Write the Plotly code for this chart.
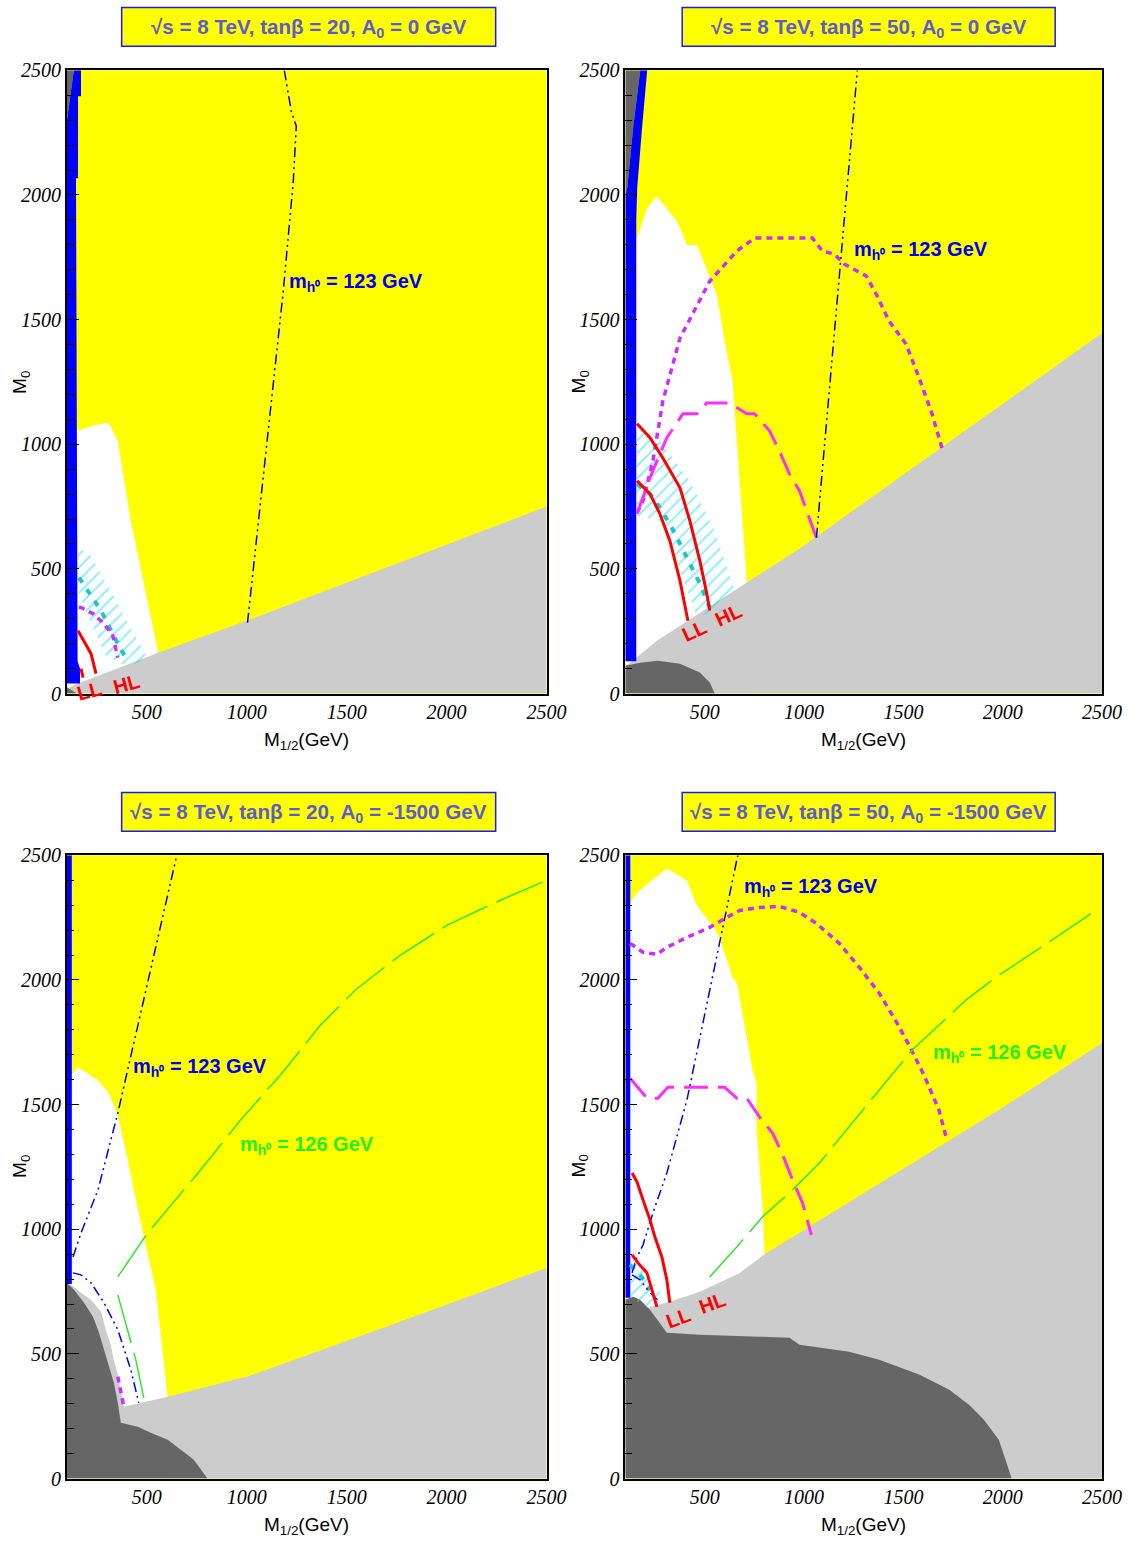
import plotly.graph_objects as go
from plotly.subplots import make_subplots

# ---------------- data: (M_1/2 [GeV], M_0 [GeV]) ----------------
X_TICKS = [500, 1000, 1500, 2000, 2500]
Y_TICKS = [0, 500, 1000, 1500, 2000, 2500]
TITLES = ["√s = 8 TeV, tanβ = 20, A<sub>0</sub> = 0 GeV",
          "√s = 8 TeV, tanβ = 50, A<sub>0</sub> = 0 GeV",
          "√s = 8 TeV, tanβ = 20, A<sub>0</sub> = -1500 GeV",
          "√s = 8 TeV, tanβ = 50, A<sub>0</sub> = -1500 GeV"]

# Panel 1: tanb=20, A0=0
P1_WHITE_X = [100, 150, 246, 310, 355, 420, 555, 560, 100]
P1_WHITE_Y = [1054, 1054, 1078, 1086, 1014, 693, 172, 0, 0]
P1_LGRAY_X = [100, 100, 156, 560, 1000, 2500, 2500]
P1_LGRAY_Y = [0, 20, 40, 165, 292, 750, 0]
P1_DGRAY_TOP_X = [100, 135, 100]
P1_DGRAY_TOP_Y = [2296, 2500, 2500]
P1_DGRAY_BOT_X = [100, 150, 100]
P1_DGRAY_BOT_Y = [0, 0, 25]
P1_BLUE_X = [100, 166, 166, 154, 146, 156, 156, 171, 171, 135, 100]
P1_BLUE_Y = [40, 40, 100, 130, 2067, 2067, 2396, 2396, 2500, 2500, 2296]
P1_HATCH_X = [156, 211, 345, 470, 510, 395, 295, 181, 156]
P1_HATCH_Y = [581, 565, 372, 192, 132, 112, 152, 353, 413]
P1_CYAN_X = [161, 271, 360, 395]
P1_CYAN_Y = [465, 333, 192, 144]
P1_MDOT_X = [160, 171, 231, 286, 330, 355]
P1_MDOT_Y = [345, 345, 320, 280, 232, 144]
P1_RED_HL_X = [156, 186, 221, 246]
P1_RED_HL_Y = [252, 212, 160, 80]
P1_RED_LL_X = [171, 181]
P1_RED_LL_Y = [100, 64]
P1_MH123_X = [1004, 1183, 1233, 1248, 1223, 1188]
P1_MH123_Y = [284, 1615, 2055, 2276, 2336, 2500]

# Panel 2: tanb=50, A0=0
P2_WHITE_X = [100, 159, 209, 259, 360, 410, 460, 560, 600, 640, 711, 711, 100]
P2_WHITE_Y = [1827, 1827, 1947, 1995, 1895, 1799, 1799, 1603, 1414, 1254, 453, 0, 0]
P2_LGRAY_X = [100, 100, 124, 259, 711, 977, 2500, 2500]
P2_LGRAY_Y = [0, 110, 124, 212, 445, 581, 1446, 0]
P2_DGRAY_BOT_X = [100, 100, 174, 264, 375, 475, 525, 550]
P2_DGRAY_BOT_Y = [0, 112, 124, 132, 120, 84, 44, 0]
P2_DGRAY_TOP_X = [100, 110, 139, 175, 100]
P2_DGRAY_TOP_Y = [2000, 2030, 2268, 2500, 2500]
P2_BLUE_X = [100, 155, 155, 160, 184, 210, 175, 139, 110, 100]
P2_BLUE_Y = [130, 130, 1900, 2030, 2268, 2500, 2500, 2268, 2030, 2000]
P2_HATCH_X = [159, 274, 425, 550, 651, 575, 460, 375, 274, 159]
P2_HATCH_Y = [1054, 1014, 853, 653, 413, 324, 312, 493, 693, 713]
P2_MDOT_X = [159, 189, 239, 289, 375, 525, 661, 751, 1042, 1092, 1152, 1202,
             1313, 1363, 1428, 1513, 1579, 1644, 1694]
P2_MDOT_Y = [725, 773, 933, 1174, 1426, 1654, 1775, 1827, 1827, 1775, 1763, 1723,
             1675, 1602, 1494, 1402, 1266, 1122, 985]
P2_MLONG_X = [159, 224, 274, 309, 390, 460, 510, 625, 711, 751, 826, 876, 926, 977, 1062]
P2_MLONG_Y = [721, 865, 961, 1026, 1122, 1122, 1166, 1166, 1122, 1122, 1054, 973, 881, 813, 625]
P2_RED_HL_X = [159, 224, 289, 375, 425, 475, 510, 525]
P2_RED_HL_Y = [1082, 1026, 945, 825, 693, 533, 401, 333]
P2_RED_LL_X = [159, 224, 274, 324, 375, 415]
P2_RED_LL_Y = [853, 801, 721, 613, 453, 292]
P2_CYAN_X = [159, 224, 274, 334, 375, 425, 475, 525]
P2_CYAN_Y = [841, 801, 745, 665, 601, 521, 441, 345]
P2_MH123_X = [1062, 1268]
P2_MH123_Y = [625, 2500]

# Panel 3: tanb=20, A0=-1500
P3_WHITE_X = [100, 131, 156, 256, 310, 355, 405, 470, 545, 605, 605, 100]
P3_WHITE_Y = [1626, 1626, 1650, 1598, 1546, 1458, 1278, 1026, 757, 324, 0, 0]
P3_LGRAY_X = [100, 121, 171, 221, 271, 295, 320, 335, 355, 370, 385, 605, 1019, 1767, 2500, 2500, 100]
P3_LGRAY_Y = [777, 777, 745, 717, 669, 597, 537, 477, 417, 357, 288, 328, 413, 629, 845, 0, 0]
P3_DGRAY_X = [100, 136, 186, 231, 261, 286, 310, 335, 355, 370, 455, 520, 605, 670, 734, 804, 100]
P3_DGRAY_Y = [785, 757, 705, 649, 585, 517, 449, 385, 304, 224, 208, 184, 156, 116, 76, 0, 0]
P3_BLUE_X = [100, 125, 125, 100]
P3_BLUE_Y = [780, 780, 2500, 2500]
P3_GREEN_UP_X = [355, 505, 769, 969, 1168, 1368, 1542, 1767, 2001, 2266, 2500]
P3_GREEN_UP_Y = [809, 986, 1238, 1438, 1618, 1818, 1959, 2099, 2219, 2319, 2400]
P3_GREEN_LOW_X = [355, 410, 445, 485]
P3_GREEN_LOW_Y = [737, 577, 477, 324]
P3_MH123_UP_X = [131, 171, 256, 355, 650]
P3_MH123_UP_Y = [889, 985, 1158, 1466, 2500]
P3_MH123_LOW_X = [131, 171, 221, 286, 355, 420, 460]
P3_MH123_LOW_Y = [825, 817, 785, 705, 597, 437, 304]
P3_MDOT_X = [355, 385]
P3_MDOT_Y = [409, 288]

# Panel 4: tanb=50, A0=-1500
P4_WHITE_X = [100, 124, 159, 309, 410, 460, 550, 575, 640, 661, 741, 761, 761, 791, 801, 801, 100]
P4_WHITE_Y = [2307, 2307, 2351, 2447, 2399, 2299, 2207, 2167, 2011, 1991, 1638, 1586, 1398, 1090, 905, 0, 0]
P4_LGRAY_X = [100, 139, 209, 324, 475, 676, 811, 1478, 1980, 2500, 2500, 100]
P4_LGRAY_Y = [717, 729, 685, 709, 749, 825, 905, 1230, 1478, 1747, 0, 0]
P4_DGRAY_X = [100, 139, 174, 224, 309, 475, 776, 926, 977, 1227, 1378, 1579, 1729,
              1830, 1905, 1980, 2005, 2045, 100]
P4_DGRAY_Y = [717, 729, 717, 677, 585, 577, 569, 565, 537, 509, 477, 417, 357,
              296, 236, 156, 96, 0, 0]
P4_BLUE_X = [100, 125, 125, 100]
P4_BLUE_Y = [725, 725, 2500, 2500]
P4_HATCH_X = [124, 174, 274, 264, 199, 124]
P4_HATCH_Y = [873, 853, 753, 705, 693, 725]
P4_CYAN_X = [124, 174, 224]
P4_CYAN_Y = [857, 817, 757]
P4_MDOT_X = [124, 189, 259, 309, 410, 525, 610, 676, 776, 876, 977, 1062, 1177,
             1278, 1378, 1468, 1528, 1604, 1679, 1719]
P4_MDOT_Y = [2147, 2111, 2103, 2131, 2171, 2211, 2251, 2279, 2291, 2295, 2271, 2227, 2147,
             2051, 1947, 1827, 1739, 1618, 1478, 1358]
P4_MLONG_X = [124, 209, 264, 314, 600, 661, 711, 741, 776, 841, 886, 942, 992, 1037]
P4_MLONG_Y = [1606, 1526, 1526, 1570, 1570, 1526, 1526, 1490, 1450, 1386, 1310, 1198, 1106, 977]
P4_RED_HL_X = [134, 159, 189, 224, 249, 284, 309, 324]
P4_RED_HL_Y = [1226, 1190, 1118, 1038, 969, 889, 797, 705]
P4_RED_LL_X = [134, 164, 209, 234, 259]
P4_RED_LL_Y = [897, 865, 825, 757, 689]
P4_MH123_UP_X = [134, 159, 189, 239, 309, 410, 666]
P4_MH123_UP_Y = [825, 889, 937, 1066, 1226, 1518, 2500]
P4_MH123_LOW_X = [134, 174, 224, 274]
P4_MH123_LOW_Y = [817, 797, 745, 709]
P4_GREEN_X = [525, 661, 791, 926, 1077, 1227, 1378, 1544, 1814, 1980, 2231, 2482]
P4_GREEN_Y = [809, 929, 1050, 1146, 1266, 1410, 1558, 1719, 1919, 2019, 2151, 2287]

# ---------------- styles ----------------
YELLOW = "#ffff00"
WHITE = "#ffffff"
LGRAY = "#cccccc"
DGRAY = "#666666"
BLUE = "#0000ff"
STY_MDOT = dict(color="#cc2cff", width=3.5, dash="6px,5px")
STY_MLONG = dict(color="#ff2cff", width=3, dash="24px,10px")
STY_RED = dict(color="#ff0000", width=3)
STY_CYAN = dict(color="#22c4c4", width=4, dash="6px,8px")
STY_BLUE = dict(color="#0000ee", width=1.5, dash="10px,4px,2px,4px,2px,4px")
STY_GREEN = dict(color="#2ee82e", width=1.5, dash="50px,10px")

fig = make_subplots(rows=2, cols=2)


def poly(xs, ys, color, r, c):
    fig.add_trace(go.Scatter(x=xs, y=ys, mode="lines", fill="toself", fillcolor=color,
                             line=dict(width=0, color=color), hoverinfo="skip",
                             showlegend=False), row=r, col=c)


def hatch(xs, ys, r, c):
    fig.add_trace(go.Scatter(x=xs, y=ys, mode="lines", fill="toself",
                             fillcolor="rgba(0,0,0,0)",
                             line=dict(width=0, color="rgba(0,0,0,0)"),
                             fillpattern=dict(shape="/", fgcolor="#00dcff",
                                              bgcolor="rgba(0,0,0,0)", size=9, solidity=0.2),
                             hoverinfo="skip", showlegend=False), row=r, col=c)


def line(xs, ys, sty, r, c):
    fig.add_trace(go.Scatter(x=xs, y=ys, mode="lines", line=sty, hoverinfo="skip",
                             showlegend=False), row=r, col=c)


# Panel 1
poly(P1_WHITE_X, P1_WHITE_Y, WHITE, 1, 1)
poly(P1_LGRAY_X, P1_LGRAY_Y, LGRAY, 1, 1)
poly(P1_DGRAY_TOP_X, P1_DGRAY_TOP_Y, DGRAY, 1, 1)
poly(P1_DGRAY_BOT_X, P1_DGRAY_BOT_Y, DGRAY, 1, 1)
poly(P1_BLUE_X, P1_BLUE_Y, BLUE, 1, 1)
hatch(P1_HATCH_X, P1_HATCH_Y, 1, 1)
line(P1_CYAN_X, P1_CYAN_Y, STY_CYAN, 1, 1)
line(P1_MDOT_X, P1_MDOT_Y, STY_MDOT, 1, 1)
line(P1_RED_HL_X, P1_RED_HL_Y, STY_RED, 1, 1)
line(P1_RED_LL_X, P1_RED_LL_Y, STY_RED, 1, 1)
line(P1_MH123_X, P1_MH123_Y, STY_BLUE, 1, 1)

# Panel 2
poly(P2_WHITE_X, P2_WHITE_Y, WHITE, 1, 2)
poly(P2_LGRAY_X, P2_LGRAY_Y, LGRAY, 1, 2)
poly(P2_DGRAY_BOT_X, P2_DGRAY_BOT_Y, DGRAY, 1, 2)
poly(P2_DGRAY_TOP_X, P2_DGRAY_TOP_Y, DGRAY, 1, 2)
poly(P2_BLUE_X, P2_BLUE_Y, BLUE, 1, 2)
hatch(P2_HATCH_X, P2_HATCH_Y, 1, 2)
line(P2_CYAN_X, P2_CYAN_Y, STY_CYAN, 1, 2)
line(P2_MDOT_X, P2_MDOT_Y, STY_MDOT, 1, 2)
line(P2_MLONG_X, P2_MLONG_Y, STY_MLONG, 1, 2)
line(P2_RED_HL_X, P2_RED_HL_Y, STY_RED, 1, 2)
line(P2_RED_LL_X, P2_RED_LL_Y, STY_RED, 1, 2)
line(P2_MH123_X, P2_MH123_Y, STY_BLUE, 1, 2)

# Panel 3
poly(P3_WHITE_X, P3_WHITE_Y, WHITE, 2, 1)
poly(P3_LGRAY_X, P3_LGRAY_Y, LGRAY, 2, 1)
poly(P3_DGRAY_X, P3_DGRAY_Y, DGRAY, 2, 1)
poly(P3_BLUE_X, P3_BLUE_Y, BLUE, 2, 1)
line(P3_GREEN_UP_X, P3_GREEN_UP_Y, STY_GREEN, 2, 1)
line(P3_GREEN_LOW_X, P3_GREEN_LOW_Y, STY_GREEN, 2, 1)
line(P3_MH123_UP_X, P3_MH123_UP_Y, STY_BLUE, 2, 1)
line(P3_MH123_LOW_X, P3_MH123_LOW_Y, STY_BLUE, 2, 1)
line(P3_MDOT_X, P3_MDOT_Y, STY_MDOT, 2, 1)

# Panel 4
poly(P4_WHITE_X, P4_WHITE_Y, WHITE, 2, 2)
poly(P4_LGRAY_X, P4_LGRAY_Y, LGRAY, 2, 2)
poly(P4_DGRAY_X, P4_DGRAY_Y, DGRAY, 2, 2)
poly(P4_BLUE_X, P4_BLUE_Y, BLUE, 2, 2)
hatch(P4_HATCH_X, P4_HATCH_Y, 2, 2)
line(P4_CYAN_X, P4_CYAN_Y, STY_CYAN, 2, 2)
line(P4_MDOT_X, P4_MDOT_Y, STY_MDOT, 2, 2)
line(P4_MLONG_X, P4_MLONG_Y, STY_MLONG, 2, 2)
line(P4_GREEN_X, P4_GREEN_Y, STY_GREEN, 2, 2)
line(P4_MH123_UP_X, P4_MH123_UP_Y, STY_BLUE, 2, 2)
line(P4_MH123_LOW_X, P4_MH123_LOW_Y, STY_BLUE, 2, 2)
line(P4_RED_HL_X, P4_RED_HL_Y, STY_RED, 2, 2)
line(P4_RED_LL_X, P4_RED_LL_Y, STY_RED, 2, 2)

# ---------------- layout ----------------
W, H = 1135, 1545
# placement helpers: target pixel in final picture -> paper fraction
SX, BX, SY, BY = 0.985, -1.0, 0.987, 9.6


def fx(px):
    return ((px - BX) / SX) / W


def fy(py):
    return 1 - ((py - BY) / SY) / H


XDOM = [[fx(66), fx(547)], [fx(626), fx(1104)]]
YDOM = [[fy(693), fy(69)], [fy(1479), fy(855)]]
tickfont = dict(family="Liberation Serif", size=20, color="black", style="italic")

for i, (r, c) in enumerate([(1, 1), (1, 2), (2, 1), (2, 2)]):
    fig.update_xaxes(range=[100, 2500], domain=XDOM[c - 1], tickmode="array",
                     tickvals=X_TICKS, ticktext=[str(v) for v in X_TICKS], ticks="",
                     showgrid=False, zeroline=False, showline=True, linecolor="black",
                     linewidth=1.5, mirror=True, tickfont=tickfont, row=r, col=c)
    fig.update_yaxes(range=[0, 2500], domain=YDOM[r - 1], tickmode="array",
                     tickvals=Y_TICKS, ticktext=[str(v) for v in Y_TICKS],
                     ticks="inside", ticklen=12, tickwidth=1.2, tickcolor="black",
                     minor=dict(ticks="inside", ticklen=7, dtick=100, tickwidth=1.2,
                                tickcolor="black", tick0=0),
                     showgrid=False, zeroline=False, showline=True, linecolor="black",
                     linewidth=1.5, mirror=True, tickfont=tickfont, row=r, col=c)

shapes = []
annotations = []
BOXES = [(121, 496, 6, 45), (683, 1057, 6, 45), (121, 496, 792, 831), (683, 1057, 792, 831)]
for i, (x0, x1, y0, y1) in enumerate(BOXES):
    shapes.append(dict(type="rect", xref="paper", yref="paper", x0=fx(x0), x1=fx(x1),
                       y0=fy(y1), y1=fy(y0), fillcolor=YELLOW,
                       line=dict(color="#1a1aff", width=1.5)))
    annotations.append(dict(text="<b>" + TITLES[i] + "</b>", xref="paper", yref="paper",
                            x=fx((x0 + x1) / 2), y=fy(y0 + 21), xanchor="center",
                            yanchor="middle", showarrow=False,
                            font=dict(family="Liberation Sans", size=20.6, color="#5c5cd0")))

# axis titles
for (px, py) in [(20, 381), (580, 381), (20, 1166), (580, 1166)]:
    annotations.append(dict(text="M<sub>0</sub>", xref="paper", yref="paper", x=fx(px),
                            y=fy(py), xanchor="center", yanchor="middle", textangle=-90,
                            showarrow=False,
                            font=dict(family="Liberation Sans", size=19, color="black")))
for (px, py) in [(306, 741), (865, 741), (306, 1527), (865, 1527)]:
    annotations.append(dict(text="M<sub>1/2</sub>(GeV)", xref="paper", yref="paper",
                            x=fx(px), y=fy(py), xanchor="center", yanchor="middle",
                            showarrow=False,
                            font=dict(family="Liberation Sans", size=19, color="black")))

LBL_FONT = dict(family="Liberation Sans", size=20)
MH_LABELS = [("x", "y", 1203, 1650, "123", "#0000ee"),
             ("x2", "y2", 1243, 1779, "123", "#0000ee"),
             ("x3", "y3", 420, 1650, "123", "#0000ee"),
             ("x3", "y3", 954, 1338, "126", "#22ee22"),
             ("x4", "y4", 686, 2372, "123", "#0000ee"),
             ("x4", "y4", 1639, 1707, "126", "#22ee22")]
for xr, yr, x, y, v, col in MH_LABELS:
    annotations.append(dict(text="<b>m<sub>h⁰</sub> = " + v + " GeV</b>", xref=xr, yref=yr,
                            x=x, y=y, xanchor="left", yanchor="middle", showarrow=False,
                            font=dict(color=col, **LBL_FONT)))

LLHL = [("x", "y", 211, 12, "LL", -15), ("x", "y", 400, 40, "HL", -15),
        ("x2", "y2", 445, 252, "LL", -25), ("x2", "y2", 620, 316, "HL", -25),
        ("x4", "y4", 365, 645, "LL", -20), ("x4", "y4", 540, 705, "HL", -20)]
for xr, yr, x, y, t, ang in LLHL:
    annotations.append(dict(text="<b>" + t + "</b>", xref=xr, yref=yr, x=x, y=y,
                            xanchor="center", yanchor="middle", textangle=ang,
                            showarrow=False,
                            font=dict(family="Liberation Sans", size=20, color="#ff0000")))

fig.update_layout(width=W, height=H, margin=dict(l=0, r=0, t=0, b=0),
                  paper_bgcolor="white", plot_bgcolor=YELLOW, showlegend=False,
                  shapes=shapes, annotations=annotations)

fig.write_html("out.html",
               post_script="document.body.style.margin='0px';"
                           "document.documentElement.style.overflow='hidden';"
                           "document.body.style.overflow='hidden';")
